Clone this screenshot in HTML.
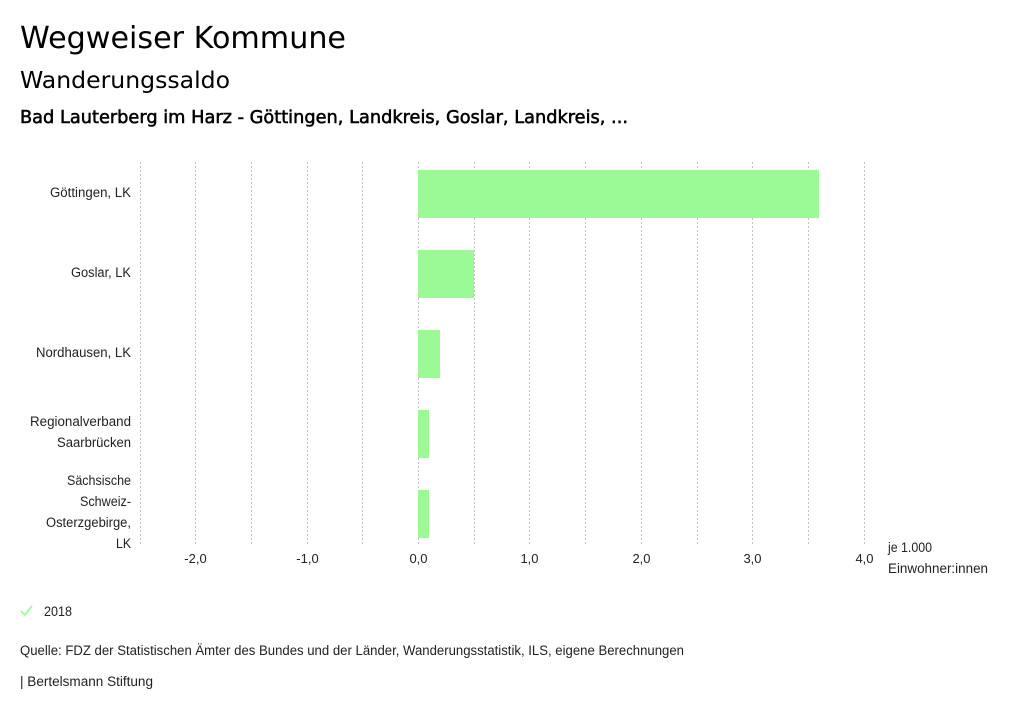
<!DOCTYPE html>
<html><head><meta charset="utf-8">
<style>
html,body{margin:0;padding:0;background:#fff;}
svg{display:block;}
</style></head>
<body>
<svg width="1024" height="714" viewBox="0 0 1024 714" xmlns="http://www.w3.org/2000/svg">
<rect width="1024" height="714" fill="#fff"/>
<g font-family="'DejaVu Sans', 'Liberation Sans', sans-serif" fill="#000">
<text x="20" y="48" font-size="30" textLength="326" lengthAdjust="spacingAndGlyphs">Wegweiser Kommune</text>
<text x="20" y="88" font-size="23" textLength="210" lengthAdjust="spacingAndGlyphs">Wanderungssaldo</text>
<text x="20" y="123" font-size="17.5" stroke="#000" stroke-width="0.55" textLength="608" lengthAdjust="spacingAndGlyphs">Bad Lauterberg im Harz - Göttingen, Landkreis, Goslar, Landkreis, ...</text>
</g>
<g stroke="#c2c2c2" stroke-width="1" stroke-dasharray="2,2">
<line x1="140.5" y1="162" x2="140.5" y2="545"/>
<line x1="195.5" y1="162" x2="195.5" y2="545"/>
<line x1="251.5" y1="162" x2="251.5" y2="545"/>
<line x1="307.5" y1="162" x2="307.5" y2="545"/>
<line x1="362.5" y1="162" x2="362.5" y2="545"/>
<line x1="418.5" y1="162" x2="418.5" y2="545"/>
<line x1="474.5" y1="162" x2="474.5" y2="545"/>
<line x1="529.5" y1="162" x2="529.5" y2="545"/>
<line x1="585.5" y1="162" x2="585.5" y2="545"/>
<line x1="641.5" y1="162" x2="641.5" y2="545"/>
<line x1="697.5" y1="162" x2="697.5" y2="545"/>
<line x1="752.5" y1="162" x2="752.5" y2="545"/>
<line x1="808.5" y1="162" x2="808.5" y2="545"/>
<line x1="864.5" y1="162" x2="864.5" y2="545"/>
</g>
<g fill="#9bf996">
<rect x="418" y="170" width="401" height="48"/>
<rect x="418" y="250" width="56" height="48"/>
<rect x="418" y="330" width="22" height="48"/>
<rect x="418" y="410" width="11" height="48"/>
<rect x="418" y="490" width="11" height="48"/>
</g>
<g font-family="'Liberation Sans', sans-serif" font-size="13.5" fill="#222" text-anchor="end">
<text x="131" y="197" textLength="81" lengthAdjust="spacingAndGlyphs">Göttingen, LK</text>
<text x="131" y="277" textLength="60" lengthAdjust="spacingAndGlyphs">Goslar, LK</text>
<text x="131" y="357" textLength="95" lengthAdjust="spacingAndGlyphs">Nordhausen, LK</text>
<text x="131" y="426" textLength="101" lengthAdjust="spacingAndGlyphs">Regionalverband</text>
<text x="131" y="447" textLength="74" lengthAdjust="spacingAndGlyphs">Saarbrücken</text>
<text x="131" y="485" textLength="64" lengthAdjust="spacingAndGlyphs">Sächsische</text>
<text x="131" y="506" textLength="51" lengthAdjust="spacingAndGlyphs">Schweiz-</text>
<text x="131" y="527" textLength="85" lengthAdjust="spacingAndGlyphs">Osterzgebirge,</text>
<text x="131" y="548" textLength="15" lengthAdjust="spacingAndGlyphs">LK</text>
</g>
<g font-family="'Liberation Sans', sans-serif" font-size="13" fill="#222" text-anchor="middle">
<text x="195.5" y="563">-2,0</text>
<text x="307.5" y="563">-1,0</text>
<text x="418.5" y="563">0,0</text>
<text x="529.5" y="563">1,0</text>
<text x="641.5" y="563">2,0</text>
<text x="752.5" y="563">3,0</text>
<text x="864.5" y="563">4,0</text>
</g>
<g font-family="'Liberation Sans', sans-serif" font-size="13.5" fill="#222">
<text x="888" y="552" textLength="44" lengthAdjust="spacingAndGlyphs">je 1.000</text>
<text x="888" y="573" textLength="100" lengthAdjust="spacingAndGlyphs">Einwohner:innen</text>
<text x="44" y="616" textLength="28" lengthAdjust="spacingAndGlyphs">2018</text>
<text x="20" y="655" textLength="664" lengthAdjust="spacingAndGlyphs">Quelle: FDZ der Statistischen Ämter des Bundes und der Länder, Wanderungsstatistik, ILS, eigene Berechnungen</text>
<text x="20" y="686" textLength="133" lengthAdjust="spacingAndGlyphs">| Bertelsmann Stiftung</text>
</g>
<polyline points="21,611 25,615 32,606" fill="none" stroke="#9bf996" stroke-width="1.6"/>
</svg>
</body></html>
